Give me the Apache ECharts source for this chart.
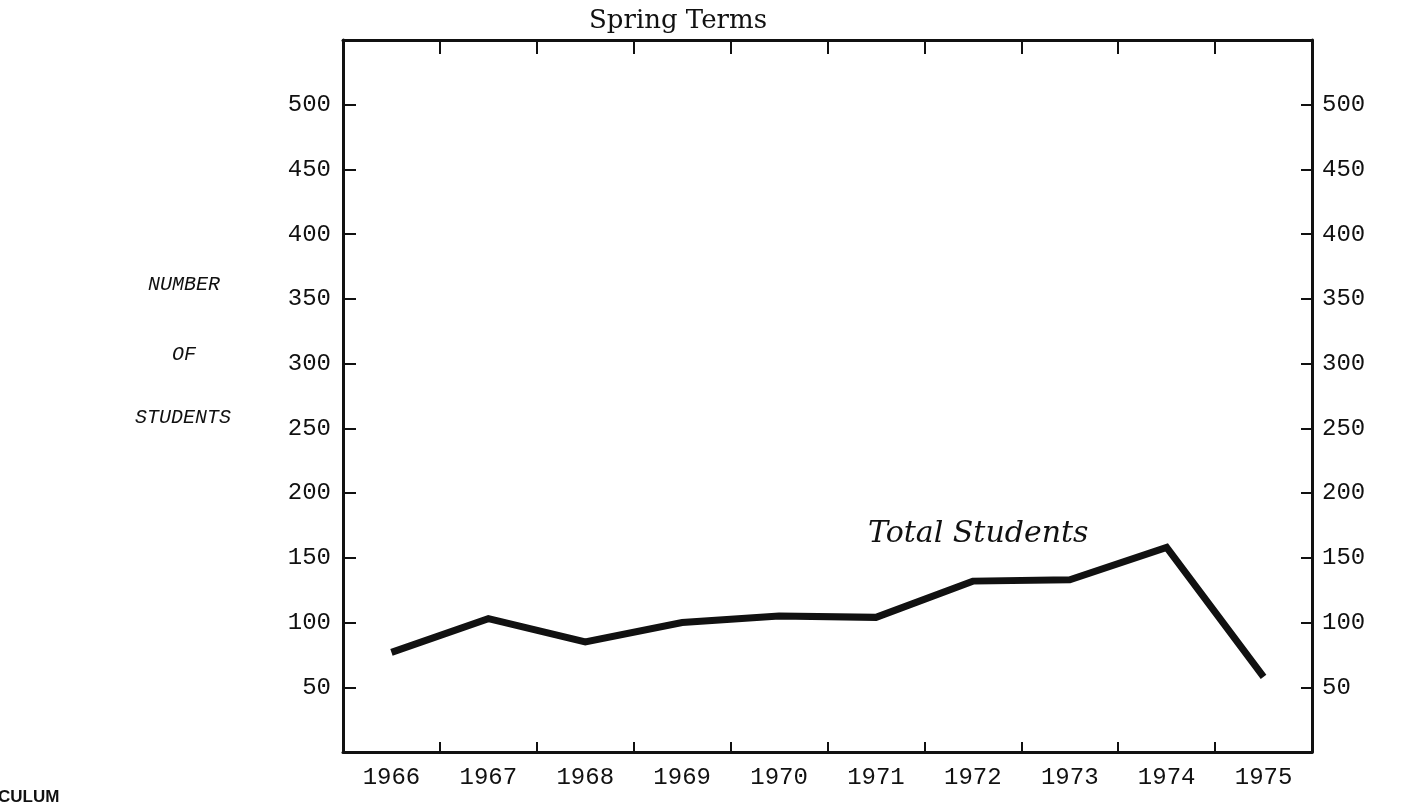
<!DOCTYPE html>
<html>
<head>
<meta charset="utf-8">
<title>Spring Terms</title>
<script src="https://cdn.jsdelivr.net/npm/echarts@6/dist/echarts.min.js"></script>
<style>
  html, body { margin: 0; padding: 0; background: #fff; }
  #main { width: 1405px; height: 802px; }
</style>
</head>
<body>
<div id="main"></div>
<script>
// data
const years = ['1966', '1967', '1968', '1969', '1970', '1971', '1972', '1973', '1974', '1975'];
const totalStudents = [77, 103, 85, 100, 105, 104, 132, 133, 158, 58];
const yTicks = [50, 100, 150, 200, 250, 300, 350, 400, 450, 500];

let chart = echarts.init(document.getElementById('main'));

const ink = '#111';
const numFont = 'Liberation Mono';
const italicFont = 'DejaVu Serif';

function tickLabel(v) {
    return yTicks.indexOf(v) >= 0 ? String(v) : '';
}

option = {
    backgroundColor: '#fff',
    animation: false,
    title: {
        text: 'Spring Terms',
        left: 584,
        top: 3,
        textStyle: {
            fontFamily: 'DejaVu Serif',
            fontWeight: 'normal',
            fontSize: 26,
            color: ink
        }
    },
    grid: {
        left: 343,
        right: 93,
        top: 40,
        bottom: 50
    },
    xAxis: [
        {
            type: 'category',
            position: 'bottom',
            data: years,
            boundaryGap: true,
            axisLine: { onZero: false, lineStyle: { color: ink, width: 3 } },
            axisTick: { show: true, interval: 0, inside: true, length: 10, lineStyle: { color: ink, width: 2 } },
            axisLabel: { color: ink, fontFamily: numFont, fontSize: 24, margin: 14 },
            splitLine: { show: false }
        },
        {
            type: 'category',
            position: 'top',
            data: years,
            boundaryGap: true,
            axisLine: { onZero: false, lineStyle: { color: ink, width: 3 } },
            axisTick: { show: true, interval: 0, inside: true, length: 14, lineStyle: { color: ink, width: 2 } },
            axisLabel: { show: false },
            splitLine: { show: false }
        }
    ],
    yAxis: [
        {
            type: 'value',
            position: 'left',
            min: 0,
            max: 550,
            interval: 50,
            axisLine: { show: true, onZero: false, lineStyle: { color: ink, width: 3 } },
            axisTick: { show: true, inside: true, length: 13, lineStyle: { color: ink, width: 2 } },
            axisLabel: { color: ink, fontFamily: numFont, fontSize: 24, margin: 12, formatter: tickLabel },
            splitLine: { show: false }
        },
        {
            type: 'value',
            position: 'right',
            min: 0,
            max: 550,
            interval: 50,
            axisLine: { show: true, onZero: false, lineStyle: { color: ink, width: 3 } },
            axisTick: { show: true, inside: true, length: 11, lineStyle: { color: ink, width: 2 } },
            axisLabel: { color: ink, fontFamily: numFont, fontSize: 24, margin: 10, formatter: tickLabel },
            splitLine: { show: false }
        }
    ],
    graphic: [
        {
            type: 'text', left: 148, top: 275,
            style: { text: 'NUMBER', fontFamily: numFont, fontStyle: 'italic', fontSize: 20, fill: ink }
        },
        {
            type: 'text', left: 172, top: 345,
            style: { text: 'OF', fontFamily: numFont, fontStyle: 'italic', fontSize: 20, fill: ink }
        },
        {
            type: 'text', left: 135, top: 408,
            style: { text: 'STUDENTS', fontFamily: numFont, fontStyle: 'italic', fontSize: 20, fill: ink }
        },
        {
            type: 'text', left: 868, top: 519,
            style: { text: 'Total Students', fontFamily: italicFont, fontStyle: 'italic', fontSize: 30, fill: ink }
        },
        {
            type: 'text', left: -2, top: 789,
            style: { text: 'CULUM', fontFamily: 'Liberation Sans', fontWeight: 'bold', fontSize: 17, fill: ink }
        }
    ],
    series: [
        {
            name: 'Total Students',
            type: 'line',
            xAxisIndex: 0,
            yAxisIndex: 0,
            data: totalStudents,
            symbol: 'none',
            lineStyle: { color: ink, width: 7, join: 'miter' }
        }
    ]
};
chart.setOption(option);
</script>
</body>
</html>
